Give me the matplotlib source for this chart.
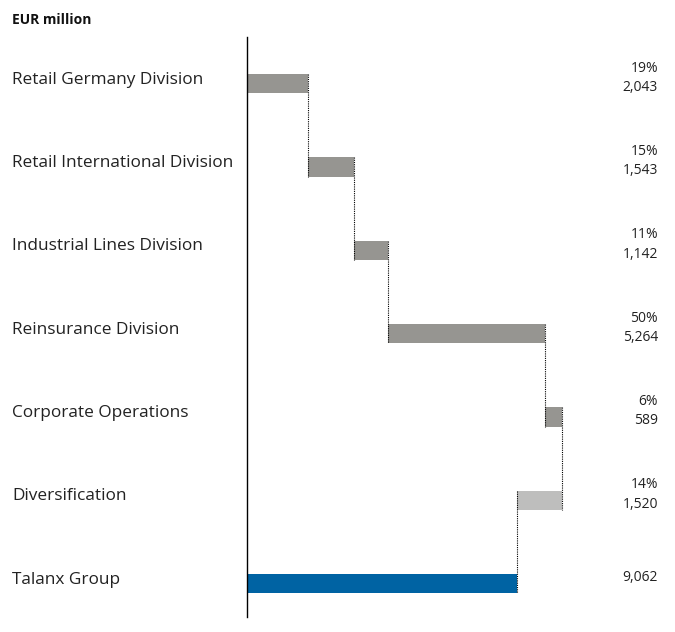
import matplotlib.pyplot as plt
import matplotlib.transforms as mtransforms

categories = ["Retail Germany Division", "Retail International Division",
              "Industrial Lines Division", "Reinsurance Division",
              "Corporate Operations", "Diversification", "Talanx Group"]
values = [2043, 1543, 1142, 5264, 589, -1520, 9062]
shares = ["19%", "15%", "11%", "50%", "6%", "14%", ""]
value_labels = ["2,043", "1,543", "1,142", "5,264", "589", "1,520", "9,062"]

plt.rcParams['font.family'] = ['Open Sans', 'DejaVu Sans']

fig = plt.figure(figsize=(6.75, 6.32), dpi=100)
ax = fig.add_axes([247 / 675, 15 / 632, 428 / 675, 580 / 632])

# Waterfall: running total for the segments, last bar is the group total
lefts = []
running = 0
for v in values[:-1]:
    if v >= 0:
        lefts.append(running)
    else:
        lefts.append(running + v)
    running += v
lefts.append(0)
widths = [abs(v) for v in values]
colors = ["#969591"] * 5 + ["#bebebd", "#0063a3"]

bar_h = 0.23
ys = list(range(len(categories)))
ax.barh(ys, widths, left=lefts, height=bar_h, color=colors)

# dotted connectors from end of one bar down to the next
running = 0
for i, v in enumerate(values[:-1]):
    running += v
    ax.plot([running, running], [i - bar_h / 2, i + 1 + bar_h / 2],
            color="black", lw=0.8, ls=(0, (1, 1)))

ax.set_xlim(0, 428 / 0.0298)
ax.set_ylim(6.4, -0.56)
for s in ["top", "right", "bottom"]:
    ax.spines[s].set_visible(False)
ax.spines["left"].set_linewidth(1.0)
ax.set_xticks([])
ax.set_yticks([])

trans = mtransforms.blended_transform_factory(fig.transFigure, ax.transData)
for i, cat in enumerate(categories):
    ax.text(12 / 675, i - 0.05, cat, transform=trans, ha="left", va="center",
            fontsize=12.4, color="#222222", clip_on=False)
    label = value_labels[i] if shares[i] == "" else shares[i] + "\n" + value_labels[i]
    ax.text(658 / 675, i - 0.07, label, transform=trans, ha="right", va="center",
            fontsize=10, color="#222222", linespacing=1.4, clip_on=False)

fig.text(12 / 675, 1 - 20 / 632, "EUR million", ha="left", va="center",
         fontsize=10, fontweight="bold", color="#111111")

fig.savefig("out.png", dpi=100)
